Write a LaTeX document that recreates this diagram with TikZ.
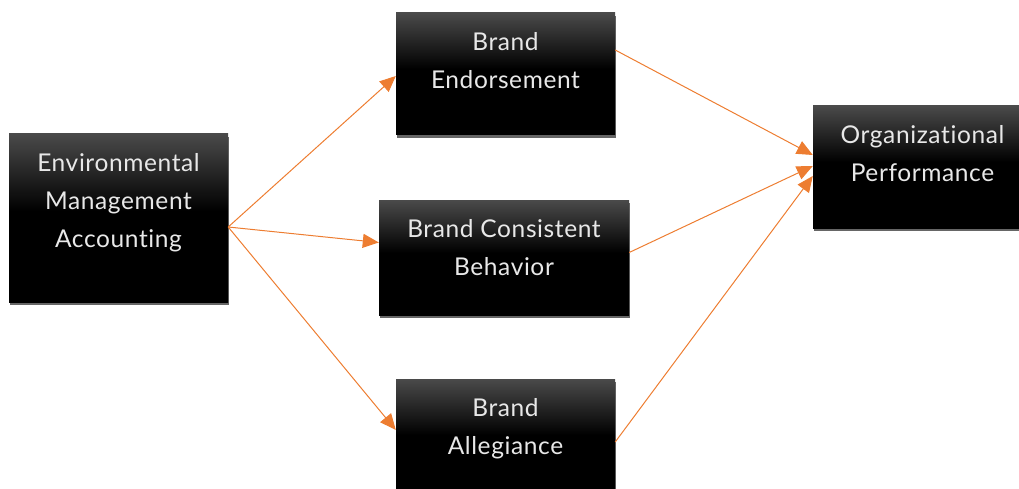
\documentclass[tikz,border=0pt]{standalone}
\usepackage{fontspec}
\setmainfont{Lato}[Ligatures=NoCommon, LetterSpace=2.5]
\usetikzlibrary{arrows.meta,positioning,shadows}
\definecolor{boxtop}{HTML}{4A4A4A}
\definecolor{flowline}{HTML}{ED7D31}
\definecolor{boxtext}{HTML}{E8E8E8}
\pgfdeclareverticalshading{boxfill}{100bp}{color(0bp)=(black); color(52bp)=(black); color(75bp)=(boxtop); color(100bp)=(boxtop)}
\tikzset{
	box/.style={rectangle, inner sep=0pt, shade, shading=boxfill, drop shadow={shadow xshift=1pt, shadow yshift=-3pt, fill=black!60, opacity=1}},
	boxlabel/.style={inner sep=0pt, align=center, text=boxtext, font=\fontsize{24.5}{38}\selectfont},
	flow/.style={draw=flowline, line width=1pt, -{Triangle[length=16pt,width=14pt]}}
}

\begin{document}
\begin{tikzpicture}[x=1pt, y=1pt]
			%%%%% START %%%%%
			
			\useasboundingbox (0, 0) rectangle (1019, 488);
			\clip (0, 0) rectangle (1019, 488);
			
			\node[box, minimum width=219pt, minimum height=168pt] (ema) at (118.5, 270) {};
			\node[box, minimum width=219pt, minimum height=122pt] (be) at (505.5, 414) {};
			\node[box, minimum width=250pt, minimum height=115pt] (bcb) at (504, 230.5) {};
			\node[box, minimum width=219pt, minimum height=122pt] (ba) at (505.5, 48) {};
			\node[box, minimum width=219pt, minimum height=122pt] (op) at (922.5, 321) {};
			
			\node[boxlabel, below=19pt of ema.north] (emaText) {Environmental\\Management\\Accounting};
			\node[boxlabel, below=19pt of be.north] (beText) {Brand\\Endorsement};
			\node[boxlabel, below=19pt of bcb.north] (bcbText) {Brand Consistent\\Behavior};
			\node[boxlabel, below=19pt of ba.north] (baText) {Brand\\Allegiance};
			\node[boxlabel, below=19pt of op.north] (opText) {Organizational\\Performance};
			
			\draw[flow] ([yshift=-9pt]ema.east) -- ([yshift=-2pt]be.west);
			\draw[flow] ([yshift=-9pt]ema.east) -- ([yshift=15pt]bcb.west);
			\draw[flow] ([yshift=-9pt]ema.east) -- ([yshift=10pt]ba.west);
			
			\draw[flow] ([yshift=24pt]be.east) -- ([yshift=12pt]op.west);
			\draw[flow] ([yshift=5pt]bcb.east) -- ([yshift=1pt]op.west);
			\draw[flow] ([yshift=-2pt]ba.east) -- ([yshift=-9pt]op.west);
			
			%%%%% END %%%%%
\end{tikzpicture}
\end{document}
